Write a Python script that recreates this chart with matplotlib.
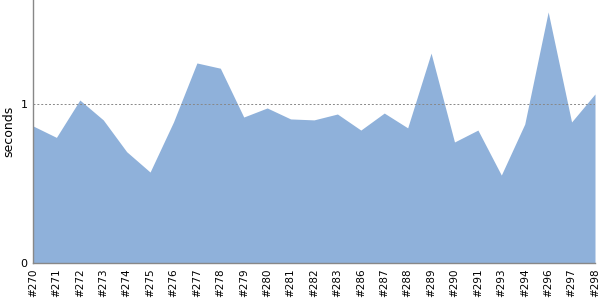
import numpy as np
import matplotlib.pyplot as plt

builds = ['#270', '#271', '#272', '#273', '#274', '#275', '#276', '#277', '#278',
          '#279', '#280', '#281', '#282', '#283', '#286', '#287', '#288', '#289',
          '#290', '#291', '#293', '#294', '#296', '#297', '#298']
seconds = [0.862, 0.79, 1.025, 0.90, 0.70, 0.572, 0.887, 1.258, 1.225,
           0.918, 0.975, 0.906, 0.90, 0.937, 0.836, 0.943, 0.85, 1.32,
           0.761, 0.836, 0.553, 0.874, 1.579, 0.887, 1.063]

fig = plt.figure(figsize=(6, 3), dpi=100)
ax = fig.add_axes([33 / 600, 37 / 300, 562 / 600, 263 / 300])

x = np.arange(len(builds))
ax.fill_between(x, seconds, 0, color='#8fb1da', linewidth=0)
ax.axhline(1, color='#888888', linestyle=(0, (2, 2)), linewidth=0.7)

ax.set_xlim(0, len(builds) - 1)
ax.set_ylim(0, 1.654)
ax.set_yticks([0, 1])
ax.set_xticks(x)
ax.set_xticklabels(builds, rotation=90, fontsize=7.5)
ax.tick_params(axis='y', labelsize=8, length=0, pad=4)
ax.tick_params(axis='x', length=0, pad=4)
ax.set_ylabel('seconds', fontsize=9, labelpad=4)

for side in ['top', 'right']:
    ax.spines[side].set_visible(False)
for side in ['left', 'bottom']:
    ax.spines[side].set_color('#888888')
    ax.spines[side].set_linewidth(1)

fig.savefig('out.png', dpi=100)
